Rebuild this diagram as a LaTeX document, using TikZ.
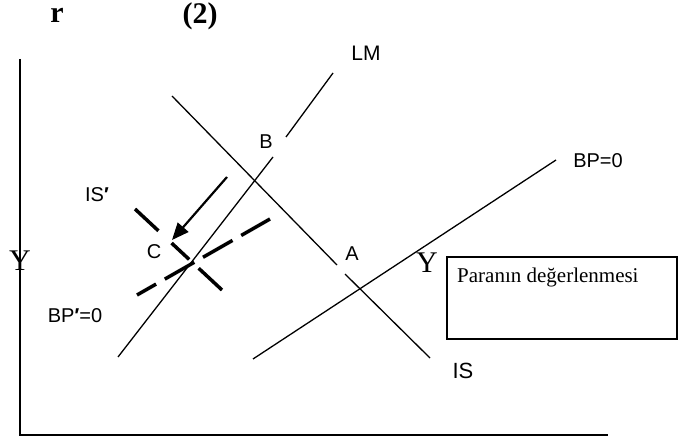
\documentclass[tikz,border=0pt]{standalone}
\usepackage{fontspec}
\setmainfont{Liberation Serif}
\setsansfont{Liberation Sans}
\usetikzlibrary{arrows.meta}
\newcommand{\bprime}{{\bfseries ′}}
\tikzset{
  curve/.style={line width=1.3bp, line cap=butt},
  axisline/.style={line width=2bp},
  shiftline/.style={line width=3.5bp},
  lbl/.style={font=\sffamily\fontsize{20bp}{23bp}\selectfont, inner sep=0pt},
  serifY/.style={font=\rmfamily\fontsize{30bp}{34bp}\selectfont, inner sep=0pt},
  titlelbl/.style={font=\rmfamily\bfseries\fontsize{30bp}{33bp}\selectfont, inner sep=0pt},
}
\begin{document}
\begin{tikzpicture}[x=1bp,y=-1bp]
\useasboundingbox (0,0) rectangle (695,439);
% axes
\coordinate (ytop) at (20,59);
\coordinate (orig) at (20,435);
\coordinate (xend) at (608,435);
\draw[axisline] (ytop) -- (orig) -- (xend);
% titles
\node[titlelbl] (rlab) at (57,15) {r};
\node[titlelbl] (num) at (200,16) {(2)};
% LM
\coordinate (lm1) at (333,73);
\coordinate (lm2) at (286,137);
\coordinate (lm3) at (273,157);
\coordinate (lm4) at (118,357);
\draw[curve] (lm1) -- (lm2);
\draw[curve] (lm3) -- (lm4);
% IS
\coordinate (is1) at (172,96);
\coordinate (is2) at (337,265);
\coordinate (is3) at (345,274);
\coordinate (is4) at (430,358);
\draw[curve] (is1) -- (is2);
\draw[curve] (is3) -- (is4);
% BP=0
\coordinate (bp1) at (253,359);
\coordinate (bp2) at (556,160);
\draw[curve] (bp1) -- (bp2);
% IS' and BP'=0 dashed
\coordinate (isp1) at (135,209);
\coordinate (isp2) at (222,290);
\draw[shiftline, dash pattern=on 32bp off 18bp on 24bp off 13bp on 40bp] (isp1) -- (isp2);
\coordinate (bpp1) at (137,295);
\coordinate (bpp2) at (270,219);
\draw[shiftline, dash pattern=on 34bp off 10bp, dash phase=12bp] (bpp1) -- (bpp2);
% arrow
\coordinate (arS) at (227,177);
\coordinate (arE) at (172,240);
\draw[line width=2.2bp, -{Triangle[length=17bp,width=14bp]}] (arS) -- (arE);
% labels
\node[lbl, font=\sffamily\fontsize{21bp}{24bp}\selectfont] (LM) at (366,53) {LM};
\node[lbl] (B) at (266,142) {B};
\node[lbl] (BP) at (598,161) {BP=0};
\node[lbl] (ISp) at (97,195) {IS\bprime};
\node[lbl] (C) at (154,252) {C};
\node[lbl] (A) at (352,254) {A};
\node[lbl] (BPp) at (75,316) {BP\bprime=0};
\node[lbl, font=\sffamily\fontsize{22bp}{25bp}\selectfont] (IS) at (463,371) {IS};
\node[serifY] (Y1) at (20,261) {Y};
\node[serifY] (Y2) at (427,263) {Y};
% box
\node[draw, line width=1.3bp, minimum width=230bp, minimum height=82bp, inner sep=0pt] (box) at (562,298) {};
\node[font=\rmfamily\fontsize{21bp}{24bp}\selectfont, inner sep=0pt, anchor=west] (boxtxt) at (457,277) {Paranın değerlenmesi};
\end{tikzpicture}
\end{document}
